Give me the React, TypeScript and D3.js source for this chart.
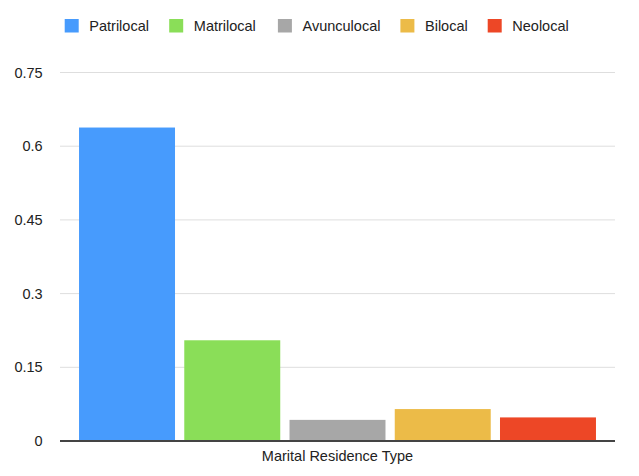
import React from "react";
import * as d3 from "d3";

const categories = ["Patrilocal", "Matrilocal", "Avunculocal", "Bilocal", "Neolocal"];
const values = [0.638, 0.205, 0.043, 0.065, 0.048];
const colors = ["#479bfd", "#8ade58", "#a7a7a7", "#ecbb48", "#ed4726"];
const yTicks = [0, 0.15, 0.3, 0.45, 0.6, 0.75];
const xTitle = "Marital Residence Type";

const W = 639;
const H = 476;
const FONT = "'Liberation Sans', Arial, Helvetica, sans-serif";

export default function App() {
  const left = 60;
  const right = 615;
  const y = d3.scaleLinear().domain([0, 0.75]).range([441, 72.5]);
  const x = d3
    .scaleBand<string>()
    .domain(categories)
    .range([74.4, 600.6])
    .paddingInner(0.088)
    .paddingOuter(0.044);

  // legend layout: square, gap, label, gap
  const legendX = [64.7, 169.2, 277.9, 400.4, 487.7];

  return (
    <svg
      width={W}
      height={H}
      style={{ position: "absolute", left: 0, top: 0, background: "#fff" }}
      fontFamily={FONT}
    >
      {/* legend */}
      {categories.map((c, i) => (
        <g key={c}>
          <rect x={legendX[i]} y={19} width={14} height={13.5} fill={colors[i]} />
          <text x={legendX[i] + 24.6} y={30.8} fontSize={14.5} fill="#222">
            {c}
          </text>
        </g>
      ))}

      {/* gridlines and tick labels */}
      {yTicks.map((t) => (
        <g key={t}>
          {t !== 0 && (
            <line x1={left} x2={right} y1={y(t)} y2={y(t)} stroke="#dedede" strokeWidth={1} />
          )}
          <text
            x={42.7}
            y={y(t)}
            dy="0.35em"
            textAnchor="end"
            fontSize={14.5}
            fill="#222"
          >
            {d3.format("~g")(t)}
          </text>
        </g>
      ))}

      {/* bars */}
      {categories.map((c, i) => (
        <rect
          key={c}
          x={x(c)}
          y={y(values[i])}
          width={x.bandwidth()}
          height={y(0) - y(values[i])}
          fill={colors[i]}
        />
      ))}

      {/* baseline */}
      <line x1={left} x2={right} y1={y(0)} y2={y(0)} stroke="#444" strokeWidth={2} />

      {/* x axis title */}
      <text x={(left + right) / 2} y={460.7} textAnchor="middle" fontSize={14.5} fill="#222">
        {xTitle}
      </text>
    </svg>
  );
}
